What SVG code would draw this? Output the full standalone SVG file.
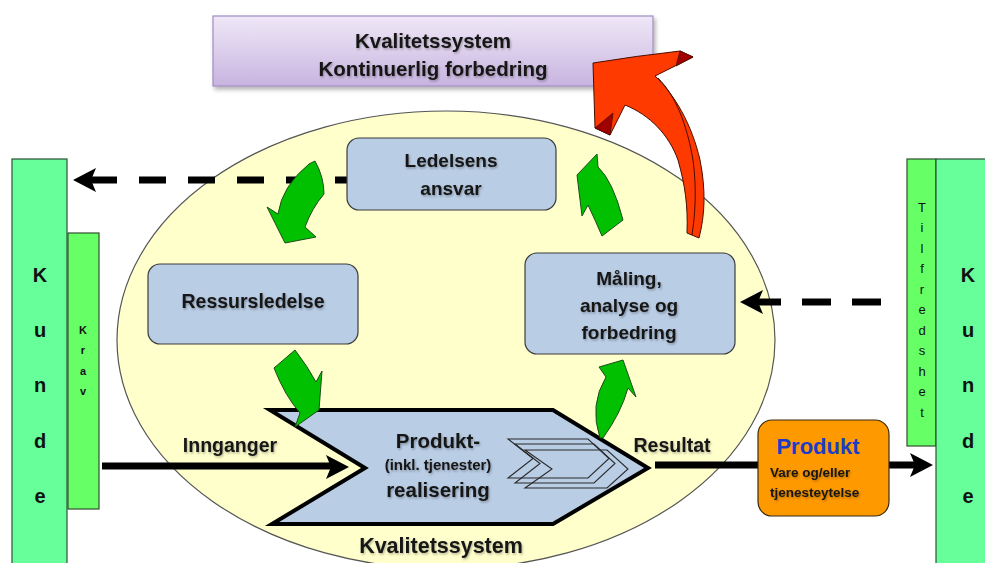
<svg xmlns="http://www.w3.org/2000/svg" width="985" height="563" viewBox="0 0 985 563">
<defs>
<linearGradient id="purp" x1="0" y1="0" x2="0" y2="1">
<stop offset="0" stop-color="#efe8f7"/>
<stop offset="1" stop-color="#c8b4e0"/>
</linearGradient>
<filter id="ts" x="-10%" y="-30%" width="130%" height="170%">
<feDropShadow dx="1" dy="1.5" stdDeviation="1" flood-color="#000" flood-opacity="0.3"/>
</filter>
<filter id="bs" x="-5%" y="-10%" width="115%" height="130%">
<feDropShadow dx="2" dy="3" stdDeviation="2" flood-color="#000" flood-opacity="0.3"/>
</filter>
</defs>
<style>
.t{font-family:"Liberation Sans",Arial,sans-serif;font-weight:bold;fill:#151515;text-anchor:middle;filter:url(#ts)}
.box{fill:#b9cde5;stroke:#3c3c3c;stroke-width:1.2}
.kunde{fill:#66ff99;stroke:#2f4f3a;stroke-width:1.2}
.side{fill:#66ff66;stroke:#2f4f2f;stroke-width:1.2}
.big{font-family:"Liberation Sans",Arial,sans-serif;font-weight:bold;font-size:20px;fill:#111;text-anchor:middle}
.sm{font-family:"Liberation Sans",Arial,sans-serif;font-size:13px;fill:#111;text-anchor:middle}
.smb{font-family:"Liberation Sans",Arial,sans-serif;font-weight:bold;font-size:11px;fill:#111;text-anchor:middle}
.green{fill:#00c000;stroke:#1d4d1d;stroke-width:1}
.red{fill:#ff3a00;stroke:#4a0c00;stroke-width:1}
.dred{fill:#a00000;stroke:#4a0c00;stroke-width:0.8}
.mini{fill:none;stroke:#2a2a2a;stroke-width:1.1}
</style>

<rect width="985" height="563" fill="#ffffff"/>

<g id="ellipse-system">
<ellipse cx="446" cy="340" rx="329" ry="229" fill="#ffffcc" stroke="#555" stroke-width="1.2"/>
</g>

<g id="kunde-left">
<rect class="kunde" x="12" y="159" width="55" height="410"/>
<text class="big" x="40" y="282">K</text>
<text class="big" x="40" y="337">u</text>
<text class="big" x="40" y="392">n</text>
<text class="big" x="40" y="448">d</text>
<text class="big" x="40" y="503">e</text>
</g>
<g id="krav">
<rect class="side" x="68" y="233" width="31" height="276"/>
<text class="smb" x="83" y="334">K</text>
<text class="smb" x="83" y="354">r</text>
<text class="smb" x="83" y="375">a</text>
<text class="smb" x="83" y="395">v</text>
</g>

<g id="tilfredshet">
<rect class="side" x="907" y="159" width="29" height="287"/>
<text class="sm" x="922" y="212">T</text>
<text class="sm" x="922" y="232">i</text>
<text class="sm" x="922" y="253">l</text>
<text class="sm" x="922" y="273">f</text>
<text class="sm" x="922" y="294">r</text>
<text class="sm" x="922" y="314">e</text>
<text class="sm" x="922" y="335">d</text>
<text class="sm" x="922" y="355">s</text>
<text class="sm" x="922" y="376">h</text>
<text class="sm" x="922" y="396">e</text>
<text class="sm" x="922" y="417">t</text>
</g>
<g id="kunde-right">
<rect class="kunde" x="936" y="159" width="60" height="410"/>
<text class="big" x="968" y="282">K</text>
<text class="big" x="968" y="337">u</text>
<text class="big" x="968" y="392">n</text>
<text class="big" x="968" y="448">d</text>
<text class="big" x="968" y="503">e</text>
</g>

<g id="kvalitetssystem-top">
<rect x="213" y="16" width="440" height="70" fill="url(#purp)" stroke="#a08cc4" stroke-width="1.2" filter="url(#bs)"/>
<text class="t" x="433" y="48" font-size="20.5">Kvalitetssystem</text>
<text class="t" x="433" y="76" font-size="20.5">Kontinuerlig forbedring</text>
</g>

<g id="connectors">
<path d="M347,180 H90" stroke="#000" stroke-width="7" stroke-dasharray="27 22" stroke-dashoffset="15" fill="none"/>
<path d="M73,180 L96,168 L91,180 L96,192 Z" fill="#000"/>
<path d="M881,302 H752" stroke="#000" stroke-width="7" stroke-dasharray="29 21" fill="none"/>
<path d="M740,302 L763,290 L758,302 L763,314 Z" fill="#000"/>
<path d="M102,466 H333" stroke="#000" stroke-width="7" fill="none"/>
<path d="M349,467 L326,455 L331,467 L326,479 Z" fill="#000"/>
<path d="M655,465 H918" stroke="#000" stroke-width="7" fill="none"/>
<path d="M933,465 L910,453 L915,465 L910,477 Z" fill="#000"/>
</g>

<g id="ledelsens-ansvar">
<rect class="box" x="347" y="138" width="209" height="72" rx="12"/>
<text class="t" x="451" y="167" font-size="19">Ledelsens</text>
<text class="t" x="451" y="195" font-size="19">ansvar</text>
</g>

<g id="ressursledelse">
<rect class="box" x="148" y="264" width="210" height="80" rx="12"/>
<text class="t" x="253" y="308" font-size="19.5">Ressursledelse</text>
</g>

<g id="maling">
<rect class="box" x="525" y="253" width="210" height="101" rx="12"/>
<text class="t" x="629" y="285" font-size="19">Måling,</text>
<text class="t" x="629" y="312" font-size="19">analyse og</text>
<text class="t" x="629" y="339" font-size="19">forbedring</text>
</g>

<g id="produktrealisering">
<path d="M270,410 L553,410 L648,468 L553,524 L272,524 L365,468 Z" fill="#b9cde5" stroke="#000" stroke-width="4" stroke-linejoin="miter"/>
<path class="mini" transform="translate(508,439)" d="M0,0 H80 L101,19.5 L80,39 H0 L25,19.5 Z"/>
<path class="mini" transform="translate(515,444)" d="M0,0 H79 L100,19.5 L79,39 H0 L25,19.5 Z"/>
<path class="mini" transform="translate(525,450)" d="M0,0 H82 L103,19 L82,38 H0 L27,19 Z"/>
<text class="t" x="438" y="448" font-size="20.5">Produkt-</text>
<text class="t" x="438" y="470" font-size="15" font-weight="normal">(inkl. tjenester)</text>
<text class="t" x="438" y="497" font-size="20.5">realisering</text>
</g>

<g id="labels">
<text class="t" x="230" y="452" font-size="19.5">Innganger</text>
<text class="t" x="672" y="452" font-size="19.5">Resultat</text>
<text class="t" x="441" y="553" font-size="21.5">Kvalitetssystem</text>
</g>

<g id="produkt">
<rect x="758" y="420" width="131" height="96" rx="14" fill="#ff9900" stroke="#3a2a10" stroke-width="1.2"/>
<text x="818" y="454" font-family="'Liberation Sans',Arial,sans-serif" font-weight="bold" font-size="22" fill="#1a3cc8" text-anchor="middle">Produkt</text>
<text class="t" x="770" y="477" font-size="13.5" style="text-anchor:start">Vare og/eller</text>
<text class="t" x="770" y="497" font-size="13.5" style="text-anchor:start">tjenesteytelse</text>
</g>

<g id="green-arrows">
<path class="green" d="M309,164 L315,161 Q324,177 324,194 Q312,208 305,227 L316,237 L285,243 L267,207 L278,214 Q282,186 309,164 Z"/>
<path class="green" d="M274,368 L295,350 Q308,367 316,382 L322,371 L319,410 L295,427 L300,413 Q285,396 274,368 Z"/>
<path class="green" d="M600,438 Q589,405 606,377 L599,367 L623,360 L636,397 L628,388 Q621,413 603,438 Z"/>
<path class="green" d="M597,154 L577,175 L582,216 L588,205 Q596,222 602,236 L623,220 Q613,181 598,167 Z"/>
</g>

<g id="red-arrow">
<path class="red" d="M593,63 Q636,56 680,51 L693,57 L655,76 C675,95 692,125 700,160 C706,190 705,215 699,238 L687,233 C688,205 685,185 678,160 C669,135 650,115 625,105 L610,135 L595,128 Z"/>
<path class="dred" d="M595,128 L610,135 L613,113 Z"/>
<path class="dred" d="M680,51 L693,57 L676,66 Z"/>
<path d="M658,78 C676,96 687,125 693,160 C697,190 695,215 692,235" fill="none" stroke="#4a0c00" stroke-width="1"/>
</g>
</svg>
